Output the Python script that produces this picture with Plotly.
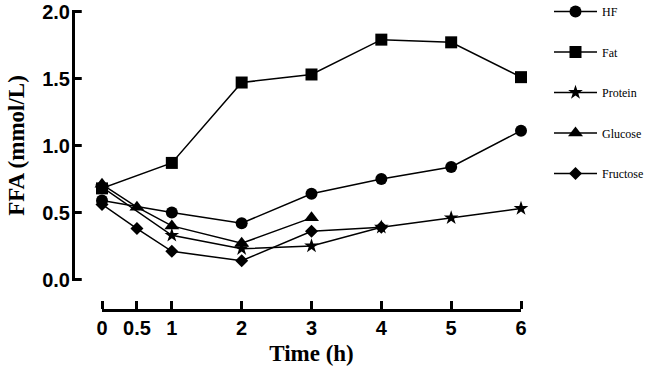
import plotly.graph_objects as go

# Data
hf_t = [0, 1, 2, 3, 4, 5, 6]
hf_v = [0.59, 0.50, 0.42, 0.64, 0.75, 0.84, 1.11]

fat_t = [0, 1, 2, 3, 4, 5, 6]
fat_v = [0.68, 0.87, 1.47, 1.53, 1.79, 1.77, 1.51]

protein_t = [0, 1, 2, 3, 4, 5, 6]
protein_v = [0.69, 0.33, 0.23, 0.25, 0.39, 0.46, 0.53]

glucose_t = [0, 0.5, 1, 2, 3]
glucose_v = [0.71, 0.54, 0.40, 0.27, 0.46]

fructose_t = [0, 0.5, 1, 2, 3, 4]
fructose_v = [0.56, 0.38, 0.21, 0.14, 0.36, 0.39]

x_ticks = [0, 0.5, 1, 2, 3, 4, 5, 6]
x_tick_text = ["0", "0.5", "1", "2", "3", "4", "5", "6"]
y_ticks = [0.0, 0.5, 1.0, 1.5, 2.0]
y_tick_text = ["0.0", "0.5", "1.0", "1.5", "2.0"]

series = [
    ("HF", hf_t, hf_v, "circle", 12),
    ("Fat", fat_t, fat_v, "square", 12),
    ("Protein", protein_t, protein_v, "star", 11),
    ("Glucose", glucose_t, glucose_v, "triangle-up", 13),
    ("Fructose", fructose_t, fructose_v, "diamond", 10),
]

W, H = 648, 378
X0_PX, X6_PX = 102, 521        # x-axis span (0..6)
Y0_PX, Y2_PX = 279.5, 11.5     # y-axis span (0..2)
XAXIS_PX = 310                 # x-axis line vertical position
YAXIS_PX = 73.5                # y-axis line horizontal position
LW = 3
TICKLEN = 8
Y_RANGE = [0, 2.0]

fig = go.Figure()
for name, t, v, sym, sz in series:
    fig.add_trace(go.Scatter(
        x=t, y=v, name=name, mode="lines+markers",
        line=dict(color="black", width=1.5),
        marker=dict(symbol=sym, size=sz, color="black"),
        cliponaxis=False, legendgroup=name,
    ))
# empty helper traces so the helper (axis-drawing) subplots exist
for xa, ya in (("x2", "y2"), ("x3", "y3")):
    fig.add_trace(go.Scatter(x=[], y=[], xaxis=xa, yaxis=ya, showlegend=False,
                             hoverinfo="skip"))

tick_font = dict(family="Liberation Sans, Arial, sans-serif", size=20, color="black", weight="bold")
title_font = dict(family="Liberation Serif, Times New Roman, serif", size=23, color="black", weight="bold")

common = dict(showgrid=False, zeroline=False)
hidden = dict(showline=False, ticks="", showticklabels=False, **common)
ydom = [1 - Y0_PX / H, 1 - Y2_PX / H]

# helper full-page axes (x in pixels, y in data units) used to draw the y-axis spine
span = (Y_RANGE[1] - Y_RANGE[0]) / (ydom[1] - ydom[0])
y4_range = [Y_RANGE[0] - ydom[0] * span, Y_RANGE[1] + (1 - ydom[1]) * span]
spine_xs, spine_ys = [YAXIS_PX, YAXIS_PX, None], [min(y_ticks), max(y_ticks), None]
for v in y_ticks:
    spine_xs += [YAXIS_PX - LW / 2, YAXIS_PX + TICKLEN, None]
    spine_ys += [v, v, None]
fig.add_trace(go.Scatter(
    x=spine_xs, y=spine_ys, xaxis="x4", yaxis="y4", mode="lines",
    line=dict(color="black", width=LW), showlegend=False, hoverinfo="skip",
    connectgaps=False, cliponaxis=False,
))


def y_to_paper(v):
    frac = (v - Y_RANGE[0]) / (Y_RANGE[1] - Y_RANGE[0])
    return ydom[0] + frac * (ydom[1] - ydom[0])


spine_x = YAXIS_PX / W
shapes = [dict(type="line", xref="paper", yref="paper", layer="above",
               x0=spine_x, x1=spine_x,
               y0=y_to_paper(min(y_ticks)), y1=y_to_paper(max(y_ticks)),
               line=dict(color="black", width=LW))]
for v in y_ticks:
    shapes.append(dict(type="line", xref="paper", yref="paper", layer="above",
                       x0=(YAXIS_PX - LW / 2) / W, x1=(YAXIS_PX + TICKLEN) / W,
                       y0=y_to_paper(v), y1=y_to_paper(v),
                       line=dict(color="black", width=LW)))

fig.update_layout(
    width=W, height=H,
    margin=dict(l=0, r=0, t=0, b=0, autoexpand=False),
    paper_bgcolor="white", plot_bgcolor="rgba(0,0,0,0)",
    showlegend=True,
    shapes=shapes,
    legend=dict(
        x=549 / W, y=1 + 3 / H, xanchor="left", yanchor="top",
        font=dict(family="Liberation Serif, Times New Roman, serif", size=12, color="black"),
        tracegroupgap=21.5, itemwidth=43, bgcolor="rgba(0,0,0,0)",
    ),
    xaxis=dict(
        domain=[X0_PX / W, X6_PX / W], range=[0, 6],
        anchor="free", position=1 - XAXIS_PX / H, side="bottom",
        showline=False, ticks="",
        tickvals=x_ticks, ticktext=x_tick_text,
        tickfont=tick_font, ticklabelstandoff=4,
        title=dict(text="Time (h)", font=title_font, standoff=6),
        **common,
    ),
    yaxis=dict(domain=ydom, range=Y_RANGE, anchor="x", **hidden),
    xaxis2=dict(
        matches="x", overlaying="x", domain=[X0_PX / W, X6_PX / W],
        anchor="free", position=1 - XAXIS_PX / H, side="top",
        showline=True, linecolor="black", linewidth=LW,
        ticks="outside", ticklen=TICKLEN, tickwidth=3, tickcolor="black",
        tickvals=x_ticks, showticklabels=False,
        **common,
    ),
    yaxis2=dict(matches="y", overlaying="y", anchor="x2", **hidden),
    # y labels + title; helper x axis starts a little left of the spine
    xaxis3=dict(domain=[(YAXIS_PX - 2.5) / W, 1], range=[0, 1], anchor="y3", **hidden),
    yaxis3=dict(
        domain=ydom, range=Y_RANGE, anchor="x3", side="left",
        showline=False, ticks="",
        tickvals=y_ticks, ticktext=y_tick_text,
        tickfont=tick_font,
        title=dict(text="FFA (mmol/L)", font=title_font, standoff=11),
        **common,
    ),
    xaxis4=dict(domain=[0, 1], range=[0, W], anchor="y4", **hidden),
    yaxis4=dict(domain=[0, 1], range=y4_range, anchor="x4", **hidden),
)

fig.write_html("out.html")
